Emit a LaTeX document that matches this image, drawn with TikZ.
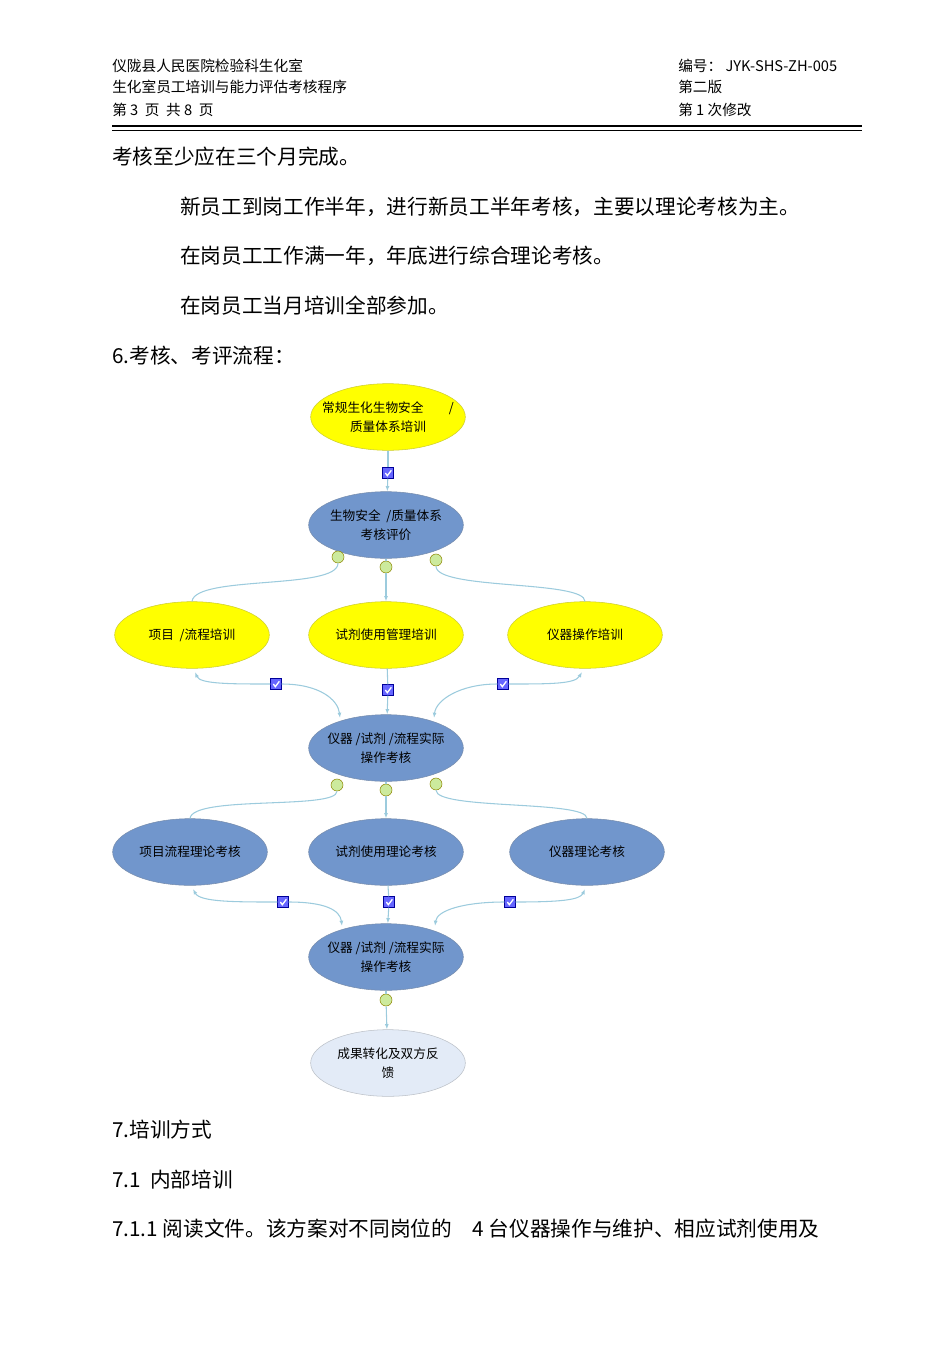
\documentclass[tikz,border=0pt]{standalone}
\usepackage{fontspec}
\setmainfont{Noto Sans CJK SC}
\usetikzlibrary{shapes.geometric,arrows.meta}
\definecolor{ny}{HTML}{FFFF00}
\definecolor{nb}{HTML}{7196CC}
\definecolor{nl}{HTML}{E3EBF7}
\definecolor{cn}{HTML}{9CCBDD}
\tikzset{
 el/.style={ellipse,draw=#1!60!gray,fill=#1,minimum width=116pt,minimum height=50pt,inner xsep=-12pt,inner ysep=0pt,align=center,font=\fontsize{9.5}{14}\selectfont},
 con/.style={draw=cn,line width=0.8pt},
 arr/.style={con,-{Latex[length=4pt,width=3pt]}},
 chk/.style={draw=blue!60!black,fill=blue!60,minimum size=8pt,inner sep=0pt,path picture={\draw[white,line width=1pt](path picture bounding box.west)++(2pt,0)--++(1.5pt,-2pt)--++(3pt,4pt);}},
 smile/.style={circle,draw=olive,fill=yellow!50!green!40,minimum size=9pt,inner sep=0pt},
 hd/.style={anchor=base west,font=\fontsize{11}{12}\selectfont,inner sep=0pt},
 bd/.style={anchor=base west,font=\fontsize{15.5}{16}\selectfont,inner sep=0pt}
}
\begin{document}
\begin{tikzpicture}[x=0.75pt,y=-0.75pt]
\useasboundingbox (0,0) rectangle (950,1345);
\node[hd] (h1) at (112,71) {仪陇县人民医院检验科生化室};
\node[hd] (h2) at (112,93) {生化室员工培训与能力评估考核程序};
\node[hd] (h3) at (112,115) {第 3\ \ 页\ \ 共 8\ \ 页};
\node[hd] (h4) at (678,71) {编号：\ JYK-SHS-ZH-005};
\node[hd] (h5) at (678,93) {第二版};
\node[hd] (h6) at (678,115) {第 1 次修改};
\draw[line width=2.2pt] (112,126)--(862,126);
\draw[line width=0.8pt] (112,130.5)--(862,130.5);
\node[bd] (t1) at (112,164) {考核至少应在三个月完成。};
\node[bd] (t2) at (180,214) {新员工到岗工作半年，进行新员工半年考核，主要以理论考核为主。};
\node[bd] (t3) at (180,263) {在岗员工工作满一年，年底进行综合理论考核。};
\node[bd] (t4) at (180,313) {在岗员工当月培训全部参加。};
\node[bd] (t5) at (112,363) {6.考核、考评流程：};
\node[bd] (t6) at (112,1137) {7.培训方式};
\node[bd] (t7) at (112,1187) {7.1\ \ 内部培训};
\node[bd] (t8) at (112,1236) {7.1.1\ 阅读文件。该方案对不同岗位的\quad 4 台仪器操作与维护、相应试剂使用及};
\node[el=ny] (a) at (388,417) {常规生化生物安全\qquad /\\质量体系培训};
\node[el=nb] (b) at (386,525) {生物安全\ \ /质量体系\\考核评价};
\node[el=ny] (c1) at (192,635) {项目\ \ /流程培训};
\node[el=ny] (c2) at (386,635) {试剂使用管理培训};
\node[el=ny] (c3) at (585,635) {仪器操作培训};
\node[el=nb] (d) at (386,748) {仪器\ /试剂\ /流程实际\\操作考核};
\node[el=nb] (e1) at (190,852) {项目流程理论考核};
\node[el=nb] (e2) at (386,852) {试剂使用理论考核};
\node[el=nb] (e3) at (587,852) {仪器理论考核};
\node[el=nb] (f) at (386,957) {仪器\ /试剂\ /流程实际\\操作考核};
\node[el=nl] (g) at (388,1063) {成果转化及双方反\\馈};
\node[chk] (k1) at (388,473) {};
\node[smile] (s1) at (338,557) {};
\node[smile] (s2) at (386,567) {};
\node[smile] (s3) at (436,560) {};
\node[chk] (k2) at (276,684) {};
\node[chk] (k3) at (388,690) {};
\node[chk] (k4) at (503,684) {};
\node[smile] (s4) at (337,785) {};
\node[smile] (s5) at (386,790) {};
\node[smile] (s6) at (436,784) {};
\node[chk] (k5) at (283,902) {};
\node[chk] (k6) at (389,902) {};
\node[chk] (k7) at (510,902) {};
\node[smile] (s7) at (386,1000) {};
\draw[con] (a)--(k1); \draw[arr] (k1)--(b);
\draw[con] (b)--(s2); \draw[arr] (s2)--(c2);
\draw[con] (s1.south) .. controls (338,590) and (195,575) .. (c1.north);
\draw[con] (s3.south) .. controls (436,590) and (585,580) .. (c3.north);
\draw[con] (c2)--(k3); \draw[arr] (k3)--(d);
\draw[arr] (k2.west) .. controls (230,684) and (200,684) .. (195,672);
\draw[arr] (k2.east) .. controls (320,684) and (338,700) .. (340,718);
\draw[arr] (k4.east) .. controls (550,684) and (575,684) .. (582,672);
\draw[arr] (k4.west) .. controls (460,684) and (436,700) .. (434,718);
\draw[con] (d)--(s5); \draw[arr] (s5)--(e2);
\draw[con] (s4.south) .. controls (337,810) and (193,795) .. (e1.north);
\draw[con] (s6.south) .. controls (436,810) and (587,800) .. (e3.north);
\draw[con] (e2)--(k6); \draw[arr] (k6)--(f);
\draw[arr] (k5.west) .. controls (235,902) and (200,902) .. (193,889);
\draw[arr] (k5.east) .. controls (325,902) and (340,910) .. (342,926);
\draw[arr] (k7.east) .. controls (560,902) and (580,900) .. (585,889);
\draw[arr] (k7.west) .. controls (465,902) and (437,910) .. (435,926);
\draw[con] (f)--(s7); \draw[arr] (s7)--(g);
\end{tikzpicture}
\end{document}
